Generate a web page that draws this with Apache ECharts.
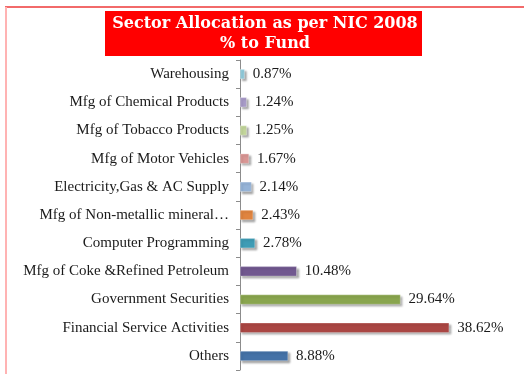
<!DOCTYPE html>
<html>
<head>
<meta charset="utf-8">
<script src="https://cdn.jsdelivr.net/npm/echarts@6/dist/echarts.min.js"></script>
<style>
  html, body { margin: 0; padding: 0; background: #fff; }
  #chart { width: 524px; height: 374px; }
</style>
</head>
<body>
<div id="chart"></div>
<script>
// Sector allocation (% of fund), listed top to bottom
const sectors = [
  'Warehousing',
  'Mfg of Chemical Products',
  'Mfg of Tobacco Products',
  'Mfg of Motor Vehicles',
  'Electricity,Gas & AC Supply',
  'Mfg of Non-metallic mineral\u2026',
  'Computer Programming',
  'Mfg of Coke &Refined Petroleum',
  'Government Securities',
  'Financial Service Activities',
  'Others'
];
const allocation = [0.87, 1.24, 1.25, 1.67, 2.14, 2.43, 2.78, 10.48, 29.64, 38.62, 8.88];
const barColors = [
  '#93cddd', '#a89bc8', '#c3d69b', '#d99694', '#95b3d7',
  '#e0843f', '#3f9cb5', '#71588f', '#89a54e', '#aa4643', '#4572a7'
];

const serif = '"Liberation Serif", "Times New Roman", serif';

const chart = echarts.init(document.getElementById('chart'), null, { renderer: 'canvas' });

chart.setOption({
  animation: false,
  backgroundColor: '#ffffff',
  grid: { left: 240, right: 24, top: 60, bottom: 4, containLabel: false },
  xAxis: {
    type: 'value',
    min: 0,
    max: 48,
    show: false
  },
  yAxis: {
    type: 'category',
    inverse: true,
    data: sectors,
    axisLine: { show: true, lineStyle: { color: '#8c8c8c', width: 1 } },
    axisTick: { show: true, length: 4, lineStyle: { color: '#8c8c8c' } },
    axisLabel: { margin: 11, color: '#1a1a1a', fontFamily: serif, fontSize: 15 }
  },
  series: [{
    type: 'bar',
    data: allocation.map((v, i) => ({ value: v, itemStyle: { color: barColors[i] } })),
    barWidth: 10,
    itemStyle: {
      borderColor: 'rgba(255,255,255,0.6)',
      borderWidth: 0.5,
      shadowColor: 'rgba(0,0,0,0.35)',
      shadowBlur: 2,
      shadowOffsetX: 2,
      shadowOffsetY: 2
    },
    label: {
      show: true,
      position: 'right',
      distance: 8,
      color: '#1a1a1a',
      fontFamily: serif,
      fontSize: 15,
      formatter: p => p.value.toFixed(2) + '%'
    }
  }],
  graphic: [
    // slide frame lines
    { type: 'line', shape: { x1: 5, y1: 7, x2: 524, y2: 7 }, style: { stroke: '#f26a6a', lineWidth: 2 }, silent: true },
    { type: 'line', shape: { x1: 6, y1: 7, x2: 6, y2: 374 }, style: { stroke: '#ffb3b3', lineWidth: 2 }, silent: true },
    // title banner
    { type: 'rect', shape: { x: 105, y: 11, width: 317, height: 45 }, style: { fill: '#ff0000' }, silent: true },
    {
      type: 'text',
      x: 265, y: 33.5,
      style: {
        text: 'Sector Allocation as per NIC 2008\n% to Fund',
        fill: '#ffffff',
        font: 'bold 16px "DejaVu Serif", serif',
        align: 'center',
        verticalAlign: 'middle',
        lineHeight: 20
      },
      silent: true
    }
  ]
});
</script>
</body>
</html>
